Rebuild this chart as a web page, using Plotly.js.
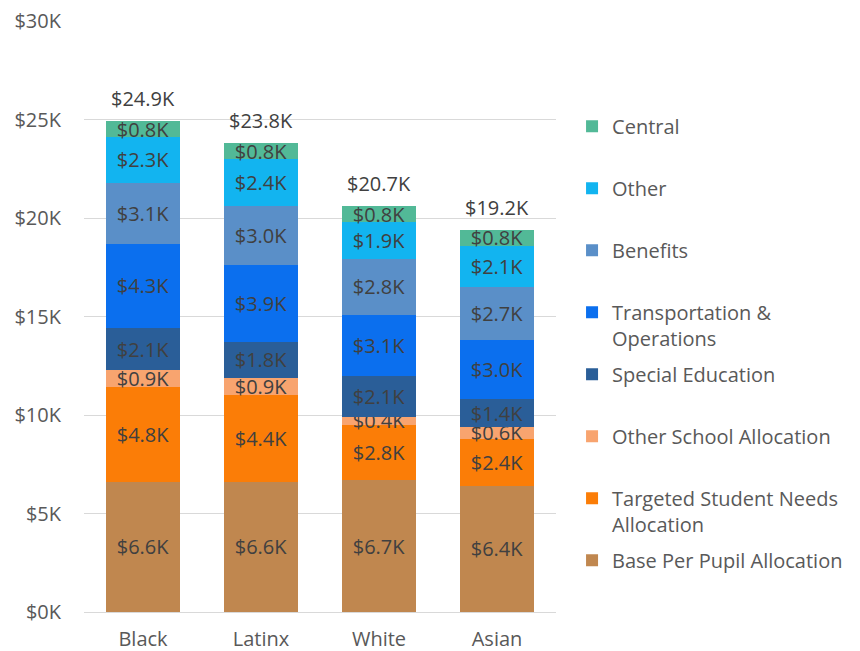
<!DOCTYPE html>
<html>
<head>
<meta charset="utf-8">
<script src="https://cdn.plot.ly/plotly-3.0.1.min.js"></script>
<style>html,body{margin:0;padding:0;background:#fff;}#chart{width:860px;height:651px;}</style>
</head>
<body>
<div id="chart"></div>
<script>
const groups = ["Black", "Latinx", "White", "Asian"];
const seriesNames = ["Base Per Pupil Allocation", "Targeted Student Needs Allocation", "Other School Allocation", "Special Education", "Transportation & Operations", "Benefits", "Other", "Central"];
const legendLabels = ["Base Per Pupil Allocation", "Targeted Student Needs<br>Allocation", "Other School Allocation", "Special Education", "Transportation &<br>Operations", "Benefits", "Other", "Central"];
const basePerPupil = [6.6, 6.6, 6.7, 6.4];
const targetedNeeds = [4.8, 4.4, 2.8, 2.4];
const otherSchool = [0.9, 0.9, 0.4, 0.6];
const specialEd = [2.1, 1.8, 2.1, 1.4];
const transportOps = [4.3, 3.9, 3.1, 3.0];
const benefits = [3.1, 3.0, 2.8, 2.7];
const other = [2.3, 2.4, 1.9, 2.1];
const central = [0.8, 0.8, 0.8, 0.8];
const totals = [24.9, 23.8, 20.7, 19.2];
const yTickVals = [0, 5, 10, 15, 20, 25, 30];
const yTickText = ["$0K", "$5K", "$10K", "$15K", "$20K", "$25K", "$30K"];
const colors = ["#c0874f", "#fb7d07", "#f8a46f", "#2a5e98", "#0b6fee", "#5a8fc8", "#12b4f0", "#52b997"];

const series = [basePerPupil, targetedNeeds, otherSchool, specialEd, transportOps, benefits, other, central];
const FONT = "Open Sans, Noto Sans, sans-serif";
const FS = 20;

const traces = series.map((vals, i) => ({
  type: "bar",
  name: legendLabels[i].indexOf("<br>") >= 0 ? legendLabels[i] : legendLabels[i] + "<br>\u00a0",
  x: groups,
  y: vals,
  text: vals.map(v => "$" + v.toFixed(1) + "K"),
  textposition: "inside",
  insidetextanchor: "middle",
  constraintext: "none",
  textfont: {family: FONT, size: FS, color: "#404040"},
  insidetextfont: {family: FONT, size: FS, color: "#404040"},
  marker: {color: colors[i], line: {width: 0}},
  legendgroup: "g" + i,
  legendrank: 1000 - i,
  hoverinfo: "none"
}));

const stackTops = groups.map((g, j) => series.reduce((s, arr) => s + arr[j], 0));
const annotations = groups.map((g, j) => ({
  x: g, y: stackTops[j], xref: "x", yref: "y",
  text: "$" + totals[j].toFixed(1) + "K",
  showarrow: false, yanchor: "bottom", yshift: 7,
  font: {family: FONT, size: FS, color: "#404040"}
}));

const layout = {
  width: 860, height: 651,
  margin: {l: 84, r: 304, t: 21, b: 39},
  paper_bgcolor: "#fff", plot_bgcolor: "#fff",
  barmode: "stack",
  bargap: 0.38,
  font: {family: FONT, size: FS, color: "#595959"},
  xaxis: {
    tickfont: {family: FONT, size: FS, color: "#595959"},
    showline: false, showgrid: false, ticks: "", ticklabelstandoff: 13, fixedrange: true
  },
  yaxis: {
    range: [0, 30], tickvals: yTickVals, ticktext: yTickText,
    tickfont: {family: FONT, size: FS, color: "#595959"},
    showgrid: true, gridcolor: "#d9d9d9", gridwidth: 1,
    zeroline: true, zerolinecolor: "#d9d9d9", zerolinewidth: 1,
    showline: false, ticks: "", ticklabelstandoff: 22, fixedrange: true
  },
  legend: {
    x: 1.034, xanchor: "left", y: 0.855, yanchor: "top",
    traceorder: "grouped", tracegroupgap: 7,
    valign: "top",
    font: {family: FONT, size: FS, color: "#595959"},
    itemwidth: 30
  },
  annotations: annotations,
  showlegend: true
};

Plotly.newPlot("chart", traces, layout, {displayModeBar: false, staticPlot: true});
</script>
</body>
</html>
